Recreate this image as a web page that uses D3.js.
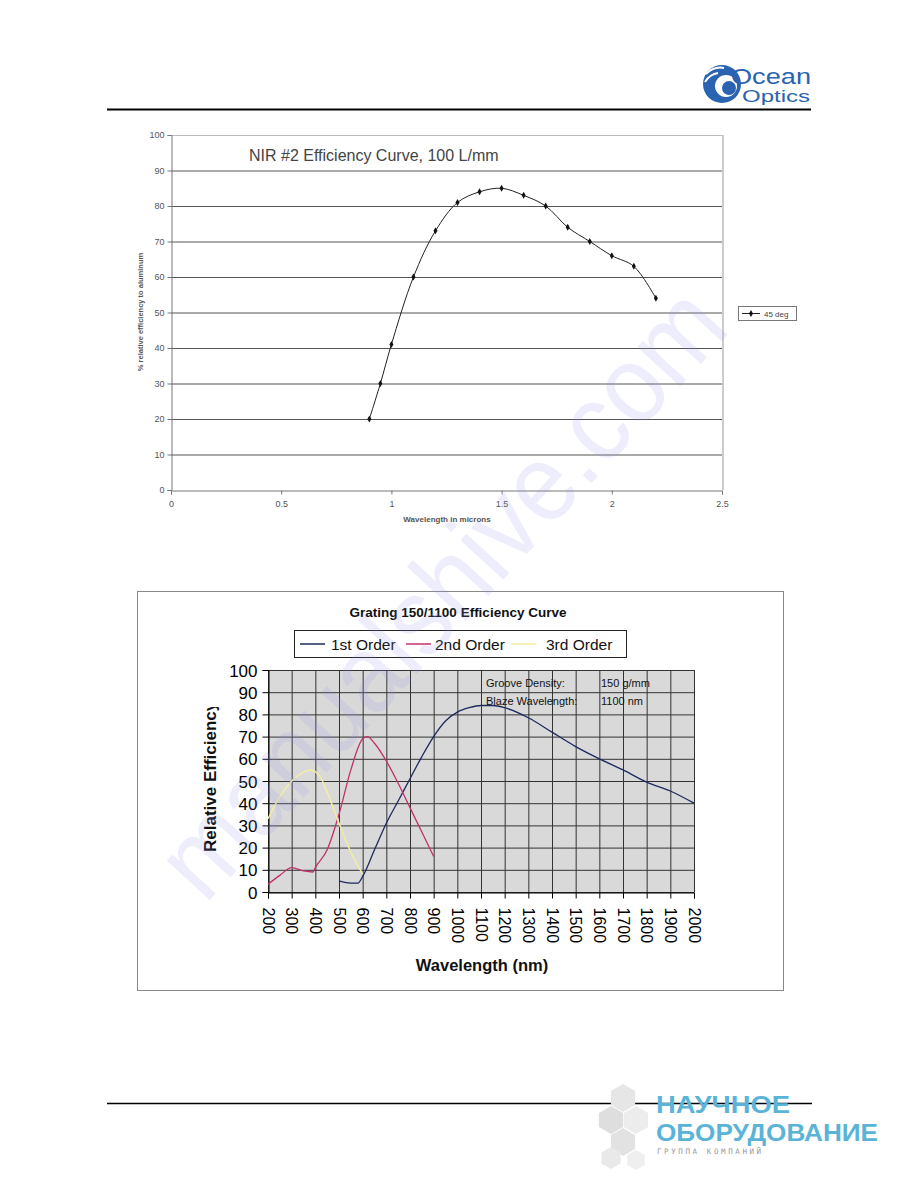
<!DOCTYPE html>
<html><head><meta charset="utf-8">
<script src="https://cdn.jsdelivr.net/npm/d3@7"></script>
<style>
html,body{margin:0;padding:0;background:#fff;}
svg{display:block;font-family:"Liberation Sans",Arial,sans-serif;}
</style></head>
<body>
<svg id="page" width="918" height="1188"></svg>
<script>
// ---------- DATA ----------
const nirTitle = "NIR #2 Efficiency Curve, 100 L/mm";
const nirWavelength = [0.9, 0.95, 1.0, 1.1, 1.2, 1.3, 1.4, 1.5, 1.6, 1.7, 1.8, 1.9, 2.0, 2.1, 2.2];
const nirEfficiency = [20, 30, 41, 60, 73, 81, 84, 85, 83, 80, 74, 70, 66, 63, 54];
const nirXTicks = [0, 0.5, 1, 1.5, 2, 2.5];
const nirXTickLabels = ["0", "0.5", "1", "1.5", "2", "2.5"];
const nirYTicks = [0, 10, 20, 30, 40, 50, 60, 70, 80, 90, 100];
const nirSeriesName = "45 deg";

const gratingTitle = "Grating 150/1100 Efficiency Curve";
const seriesNames = ["1st Order", "2nd Order", "3rd Order"];
const order1Wavelength = [500, 550, 580, 600, 650, 700, 750, 800, 850, 900, 950, 1000, 1050, 1100, 1150, 1200, 1300, 1400, 1500, 1600, 1700, 1800, 1900, 2000];
const order1Efficiency = [5, 4, 4, 7, 19, 31, 41, 51, 61, 70, 77, 81, 83, 84, 84, 83, 78.5, 72, 65.5, 60, 55, 49.5, 45.5, 40];
const order2Wavelength = [200, 250, 300, 350, 390, 400, 450, 500, 550, 600, 620, 650, 700, 750, 800, 850, 900];
const order2Efficiency = [3.5, 7.5, 11, 9.5, 9, 11, 19, 35, 55, 69, 70, 67, 59, 49, 38, 27, 16];
const order3Wavelength = [200, 250, 300, 350, 380, 420, 450, 500, 550, 600];
const order3Efficiency = [33, 43, 50, 54, 55, 52, 45, 31, 18, 8];
const gratingXTicks = [200,300,400,500,600,700,800,900,1000,1100,1200,1300,1400,1500,1600,1700,1800,1900,2000];
const gratingYTicks = [0,10,20,30,40,50,60,70,80,90,100];
const annotationLabels = ["Groove Density:", "Blaze Wavelength:"];
const annotationValues = ["150 g/mm", "1100 nm"];

// ---------- PAGE ----------
const svg = d3.select("#page");

svg.append("line").attr("x1",107).attr("x2",811).attr("y1",109.5).attr("y2",109.5).attr("stroke","#000").attr("stroke-width",2);
svg.append("line").attr("x1",107).attr("x2",812).attr("y1",1103.5).attr("y2",1103.5).attr("stroke","#000").attr("stroke-width",1.5);

// Ocean Optics logo
const oo = svg.append("g");
oo.append("circle").attr("cx",722).attr("cy",84).attr("r",19).attr("fill","#2a63b0");
oo.append("circle").attr("cx",726).attr("cy",86).attr("r",11).attr("fill","#fff");
oo.append("circle").attr("cx",729).attr("cy",88).attr("r",7).attr("fill","#2a63b0");
oo.append("path").attr("d","M706,74 Q714,66 724,68").attr("stroke","#fff").attr("stroke-width",2).attr("fill","none");
oo.append("path").attr("d","M705,82 Q710,74 718,73").attr("stroke","#fff").attr("stroke-width",2).attr("fill","none");
oo.append("text").attr("x",731).attr("y",84).attr("font-size",22).attr("fill","#2a63b0").attr("textLength",80).attr("lengthAdjust","spacingAndGlyphs").text("Ocean");
oo.append("text").attr("x",742).attr("y",102).attr("font-size",17).attr("fill","#2a63b0").attr("textLength",68).attr("lengthAdjust","spacingAndGlyphs").text("Optics");

// bottom logo
const hexG = svg.append("g");
function hex(cx, cy, r, fill){
  const pts = d3.range(6).map(i => { const a = Math.PI/3*i + Math.PI/6; return [cx + r*Math.cos(a), cy + r*Math.sin(a)]; });
  hexG.append("polygon").attr("points", pts.map(p=>p.join(",")).join(" ")).attr("fill", fill);
}
hex(623,1098,14,"#e6e6e6"); hex(611,1120,14,"#dedede"); hex(636,1120,14,"#ececec");
hex(623,1142,14,"#e2e2e2"); hex(611,1158,11,"#e9e9e9"); hex(636,1160,10,"#efefef");
svg.append("text").attr("x",656).attr("y",1113).attr("font-size",24).attr("font-weight","bold").attr("fill","#5ab4d8").attr("textLength",134).attr("lengthAdjust","spacingAndGlyphs").text("НАУЧНОЕ");
svg.append("text").attr("x",656).attr("y",1141).attr("font-size",24).attr("font-weight","bold").attr("fill","#5ab4d8").attr("textLength",222).attr("lengthAdjust","spacingAndGlyphs").text("ОБОРУДОВАНИЕ");
svg.append("text").attr("x",657).attr("y",1154).attr("font-size",7.5).attr("fill","#999").attr("letter-spacing",2.6).attr("font-family","DejaVu Sans Mono, monospace").text("ГРУППА КОМПАНИЙ");

// ---------- TOP CHART ----------
const tBox = {left:171, right:722, top:135, bottom:490};
const tx = d3.scaleLinear().domain([0,2.5]).range([tBox.left,tBox.right]);
const ty = d3.scaleLinear().domain([0,100]).range([tBox.bottom,tBox.top]);
const topG = svg.append("g");
topG.append("line").attr("x1",tBox.right+1).attr("x2",tBox.right+1).attr("y1",tBox.top).attr("y2",tBox.bottom).attr("stroke","#999");
topG.append("g").selectAll("line").data(nirYTicks.filter(d=>d>0)).join("line")
  .attr("x1",tBox.left).attr("x2",tBox.right).attr("y1",d=>ty(d)+0.5).attr("y2",d=>ty(d)+0.5)
  .attr("stroke",d=>d===100?"#bbb":"#555").attr("stroke-width",1);
const tyAxis = d3.axisLeft(ty).tickValues(nirYTicks).tickSize(4).tickFormat(d3.format("d"));
topG.append("g").attr("transform",`translate(${tBox.left+0.5},0)`).call(tyAxis)
  .call(g=>{g.select(".domain").attr("stroke","#777");g.selectAll("line").attr("stroke","#777");
    g.selectAll("text").attr("font-size",9).attr("fill","#555").attr("font-family","Liberation Sans, Arial");});
const txAxis = d3.axisBottom(tx).tickValues(nirXTicks).tickSize(4).tickFormat((d,i)=>nirXTickLabels[i]);
topG.append("g").attr("transform",`translate(0,${tBox.bottom+0.5})`).call(txAxis)
  .call(g=>{g.select(".domain").attr("stroke","#777");g.selectAll("line").attr("stroke","#777");
    g.selectAll("text").attr("font-size",9).attr("fill","#555").attr("dy","1.1em").attr("font-family","Liberation Sans, Arial");});
topG.append("text").attr("x",249).attr("y",161).attr("font-size",16).attr("fill","#444").text(nirTitle);
topG.append("text").attr("x",447).attr("y",522).attr("text-anchor","middle").attr("font-size",8).attr("font-weight","bold").attr("fill","#555").text("Wavelength in microns");
topG.append("text").attr("transform","translate(143,312) rotate(-90)").attr("text-anchor","middle").attr("font-size",7.5).attr("font-weight","bold").attr("fill","#555").text("% relative efficiency to aluminum");
const nirData = nirWavelength.map((w,i)=>({x:w,y:nirEfficiency[i]}));
topG.append("path").datum(nirData).attr("fill","none").attr("stroke","#222").attr("stroke-width",1)
  .attr("d", d3.line().x(d=>tx(d.x)).y(d=>ty(d.y)).curve(d3.curveCatmullRom.alpha(0.5)));
const diamond = d3.symbol().type(d3.symbolDiamond).size(14);
topG.append("g").selectAll("path").data(nirData).join("path")
  .attr("transform",d=>`translate(${tx(d.x)},${ty(d.y)})`).attr("d",diamond).attr("fill","#111");
const lg = topG.append("g");
lg.append("rect").attr("x",738.5).attr("y",306.5).attr("width",58).attr("height",14).attr("fill","#fff").attr("stroke","#777");
lg.append("line").attr("x1",742).attr("x2",760).attr("y1",313.5).attr("y2",313.5).attr("stroke","#222");
lg.append("path").attr("transform","translate(751,313.5)").attr("d",diamond).attr("fill","#111");
lg.append("text").attr("x",764).attr("y",317).attr("font-size",8).attr("fill","#444").text(nirSeriesName);

// ---------- BOTTOM CHART ----------
const bBox = {left:268, right:694, top:670, bottom:892};
const bx = d3.scaleLinear().domain([200,2000]).range([bBox.left,bBox.right]);
const by = d3.scaleLinear().domain([0,100]).range([bBox.bottom,bBox.top]);
const botG = svg.append("g");
botG.append("rect").attr("x",137.5).attr("y",591.5).attr("width",646).attr("height",399).attr("fill","#fff").attr("stroke","#888");
botG.append("text").attr("x",458).attr("y",617).attr("text-anchor","middle").attr("font-size",13.5).attr("font-weight","bold").attr("fill","#111").text(gratingTitle);
botG.append("rect").attr("x",bBox.left).attr("y",bBox.top).attr("width",bBox.right-bBox.left).attr("height",bBox.bottom-bBox.top).attr("fill","#d9d9d9");
botG.append("g").selectAll("line").data(gratingXTicks).join("line")
  .attr("x1",d=>bx(d)+0.5).attr("x2",d=>bx(d)+0.5).attr("y1",bBox.top).attr("y2",bBox.bottom).attr("stroke","#333").attr("stroke-width",1);
botG.append("g").selectAll("line").data(gratingYTicks).join("line")
  .attr("x1",bBox.left).attr("x2",bBox.right).attr("y1",d=>by(d)+0.5).attr("y2",d=>by(d)+0.5).attr("stroke","#333").attr("stroke-width",1);
const byAxis = d3.axisLeft(by).tickValues(gratingYTicks).tickSize(6).tickFormat(d3.format("d"));
botG.append("g").attr("transform",`translate(${bBox.left+0.5},0)`).call(byAxis)
  .call(g=>{g.select(".domain").attr("stroke","#000");g.selectAll("line").attr("stroke","#000");
    g.selectAll("text").attr("font-size",17).attr("fill","#000").attr("x",-11).attr("dy","0.36em").attr("font-family","Liberation Sans, Arial");});
const bxAxis = d3.axisBottom(bx).tickValues(gratingXTicks).tickSize(6).tickFormat(d3.format("d"));
botG.append("g").attr("transform",`translate(0,${bBox.bottom+0.5})`).call(bxAxis)
  .call(g=>{g.select(".domain").attr("stroke","#000");g.selectAll("line").attr("stroke","#000");
    g.selectAll("text").attr("font-size",16).attr("fill","#000").attr("font-family","Liberation Sans, Arial")
      .attr("transform","rotate(90)").attr("text-anchor","start").attr("x",15).attr("y",0).attr("dy","0.36em");});
botG.append("text").attr("x",482).attr("y",971).attr("text-anchor","middle").attr("font-size",16.5).attr("font-weight","bold").attr("fill","#111").text("Wavelength (nm)");
const defs = svg.append("defs");
defs.append("clipPath").attr("id","ylabClip").append("rect").attr("x",190).attr("y",707).attr("width",40).attr("height",160);
botG.append("g").attr("clip-path","url(#ylabClip)").append("text").attr("transform","translate(216,852) rotate(-90)").attr("text-anchor","start")
  .attr("font-size",17).attr("font-weight","bold").attr("fill","#111").text("Relative Efficiency");
botG.append("g").selectAll("text").data(annotationLabels).join("text")
  .attr("x",486).attr("y",(d,i)=>687+i*18).attr("font-size",11).attr("fill","#111").text(d=>d);
botG.append("g").selectAll("text").data(annotationValues).join("text")
  .attr("x",601).attr("y",(d,i)=>687+i*18).attr("font-size",11).attr("fill","#111").text(d=>d);
const colors = ["#1d2a5e", "#c2306b", "#f3eea0"];
const series = [
  order1Wavelength.map((w,i)=>({x:w,y:order1Efficiency[i]})),
  order2Wavelength.map((w,i)=>({x:w,y:order2Efficiency[i]})),
  order3Wavelength.map((w,i)=>({x:w,y:order3Efficiency[i]}))
];
const bline = d3.line().x(d=>bx(d.x)).y(d=>by(d.y)).curve(d3.curveMonotoneX);
botG.append("g").selectAll("path").data(series).join("path")
  .attr("fill","none").attr("stroke",(d,i)=>colors[i]).attr("stroke-width",(d,i)=>i===2?1.5:1.3).attr("d",bline);
const bl = botG.append("g");
bl.append("rect").attr("x",294.5).attr("y",630.5).attr("width",332).attr("height",27).attr("fill","#fff").attr("stroke","#222");
const legX = [300, 406, 511];
const legTextX = [331, 435, 546];
seriesNames.forEach((n,i)=>{
  bl.append("line").attr("x1",legX[i]).attr("x2",legX[i]+25).attr("y1",644).attr("y2",644).attr("stroke",colors[i]).attr("stroke-width",1.5);
  bl.append("text").attr("x",legTextX[i]).attr("y",650).attr("font-size",15.5).attr("fill","#111").text(n);
});

// watermark
svg.append("text").attr("transform","translate(205,905) rotate(-47.5)").attr("font-size",110)
  .attr("fill","#8f8fe8").attr("fill-opacity",0.16).attr("textLength",780).attr("lengthAdjust","spacingAndGlyphs").text("manualshive.com");
</script>
</body></html>
